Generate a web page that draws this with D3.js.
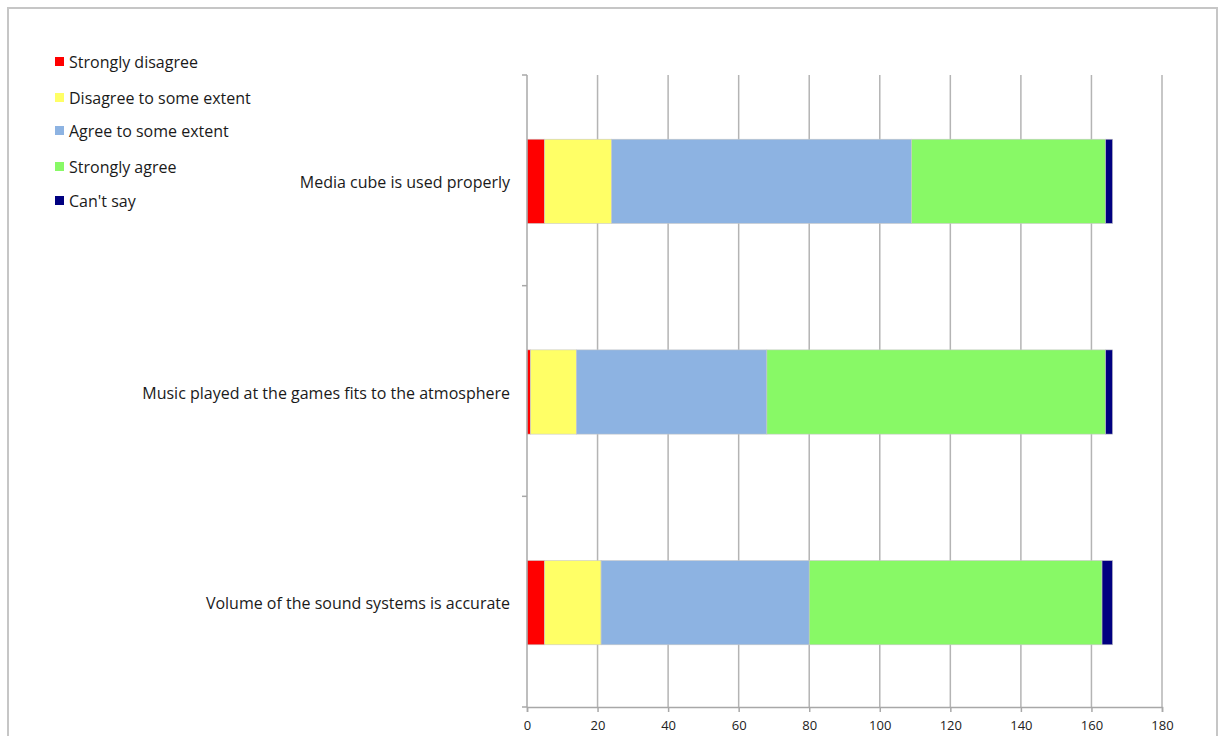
<!DOCTYPE html>
<html>
<head>
<meta charset="utf-8">
<script src="https://cdn.jsdelivr.net/npm/d3@7"></script>
<style>
  body { margin: 0; background: #fff; }
  svg { display: block; font-family: "Open Sans", "Liberation Sans", sans-serif; }
</style>
</head>
<body>
<div id="chart"></div>
<script>
const categories = [
  "Media cube is used properly",
  "Music played at the games fits to the atmosphere",
  "Volume of the sound systems is accurate"
];
const seriesNames = ["Strongly disagree", "Disagree to some extent", "Agree to some extent", "Strongly agree", "Can't say"];
const seriesColors = ["#ff0000", "#ffff66", "#8db3e2", "#88f966", "#000080"];

const stronglyDisagree = [5, 1, 5];
const disagreeSome = [19, 13, 16];
const agreeSome = [85, 54, 59];
const stronglyAgree = [55, 96, 83];
const cantSay = [2, 2, 3];

const xTicks = [0, 20, 40, 60, 80, 100, 120, 140, 160, 180];

const width = 1222, height = 736;
const margin = { top: 75, bottom: 29, left: 527, right: 60 };

const svg = d3.select('#chart')
  .append('svg')
  .attr('width', width)
  .attr('height', height);

// outer frame
svg.append('rect')
  .attr('x', 8).attr('y', 8)
  .attr('width', 1209).attr('height', 740)
  .attr('fill', 'none')
  .attr('stroke', '#c6c6c6')
  .attr('stroke-width', 2);

const table = categories.map((c, i) => ({
  category: c,
  [seriesNames[0]]: stronglyDisagree[i],
  [seriesNames[1]]: disagreeSome[i],
  [seriesNames[2]]: agreeSome[i],
  [seriesNames[3]]: stronglyAgree[i],
  [seriesNames[4]]: cantSay[i]
}));

const stacked = d3.stack().keys(seriesNames)(table);

const x = d3.scaleLinear()
  .domain([0, 180])
  .range([margin.left, 1162]);

const y = d3.scaleBand()
  .domain(categories)
  .range([margin.top, height - margin.bottom])
  .paddingInner(0.6)
  .paddingOuter(0.3);

const plotBottom = height - margin.bottom;

// vertical gridlines
svg.append('g')
  .selectAll('line')
  .data(xTicks.slice(1))
  .join('line')
  .attr('x1', d => x(d)).attr('x2', d => x(d))
  .attr('y1', margin.top).attr('y2', plotBottom)
  .attr('stroke', '#b4b4b4')
  .attr('stroke-width', 1.5);

// bars
svg.append('g')
  .selectAll('g')
  .data(stacked)
  .join('g')
  .attr('fill', (d, i) => seriesColors[i])
  .selectAll('rect')
  .data(d => d)
  .join('rect')
  .attr('x', d => x(d[0]))
  .attr('y', d => y(d.data.category) + 1)
  .attr('width', d => x(d[1]) - x(d[0]))
  .attr('height', y.bandwidth())
  .attr('stroke', '#c8c8c8')
  .attr('stroke-width', 0.6);

// left axis line + category separator ticks
const bounds = [margin.top].concat(categories.map(c => y(c) - y.step() * 0.3 + y.step()));
svg.append('line')
  .attr('x1', x(0)).attr('x2', x(0))
  .attr('y1', margin.top).attr('y2', plotBottom)
  .attr('stroke', '#a8a8a8').attr('stroke-width', 1.5);
svg.append('g')
  .selectAll('line')
  .data(bounds)
  .join('line')
  .attr('x1', x(0) - 5).attr('x2', x(0))
  .attr('y1', d => d).attr('y2', d => d)
  .attr('stroke', '#a8a8a8').attr('stroke-width', 1.5);

// category labels
svg.append('g')
  .selectAll('text')
  .data(categories)
  .join('text')
  .attr('x', 510)
  .attr('y', d => y(d) + y.bandwidth() / 2 + 2)
  .attr('dy', '0.35em')
  .attr('text-anchor', 'end')
  .attr('font-size', 16)
  .attr('fill', '#1a1a1a')
  .text(d => d);

// bottom axis
const xAxis = svg.append('g')
  .attr('transform', `translate(0,${plotBottom})`)
  .call(d3.axisBottom(x).tickValues(xTicks).tickSize(5).tickPadding(9));
xAxis.select('.domain').attr('stroke', '#a8a8a8').attr('stroke-width', 1.5);
xAxis.selectAll('.tick line').attr('stroke', '#a8a8a8').attr('stroke-width', 1.5);
xAxis.selectAll('.tick text')
  .attr('font-size', 13)
  .attr('font-family', '"Open Sans", sans-serif')
  .attr('fill', '#222');

// legend
const legendY = [62, 98, 131, 167, 201];
const legend = svg.append('g')
  .selectAll('g')
  .data(seriesNames)
  .join('g')
  .attr('transform', (d, i) => `translate(55,${legendY[i]})`);
legend.append('rect')
  .attr('x', 0).attr('y', -5)
  .attr('width', 9).attr('height', 9)
  .attr('fill', (d, i) => seriesColors[i]);
legend.append('text')
  .attr('x', 14)
  .attr('dy', '0.35em')
  .attr('font-size', 16)
  .attr('fill', '#1a1a1a')
  .text(d => d);
</script>
</body>
</html>
